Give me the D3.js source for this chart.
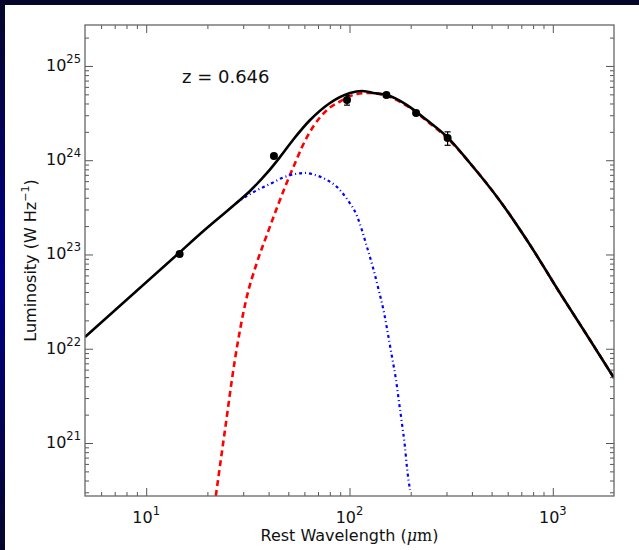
<!DOCTYPE html>
<html>
<head>
<meta charset="utf-8">
<script src="https://cdn.jsdelivr.net/npm/d3@7"></script>
<style>
  html, body { margin: 0; padding: 0; background: #fff; }
  svg { display: block; font-family: "DejaVu Sans", sans-serif; }
</style>
</head>
<body>
<div id="chart"></div>
<script>
// photometry (rest wavelength in micron, luminosity in W/Hz)
const pointWave = [14.6, 42.5, 97.2, 151.9, 212.6, 303.8];
const pointLum = [1.01e23, 1.11e24, 4.36e24, 4.92e24, 3.17e24, 1.72e24];
const pointErr = [0.04e23, 0.06e24, 0.52e24, 0.2e24, 0.15e24, 0.28e24];

// total fit (black)
const totalWave = [5, 14.3, 18.4, 26.7, 32.4, 39.3, 45.5, 52.7, 64, 80.2, 100.6, 115, 130.6, 153, 192, 240, 302, 391, 550, 773, 1084, 1524, 2000];
const totalLum = [1.33e22, 1.01e23, 1.65e23, 3.27e23, 4.72e23, 7.33e23, 1.08e24, 1.64e24, 2.67e24, 4.05e24, 5.17e24, 5.43e24, 5.17e24, 4.92e24, 3.85e24, 2.67e24, 1.77e24, 9.35e23, 3.7e23, 1.26e23, 3.9e22, 1.24e22, 4.9e21];

// cold dust component (red dashed)
const coldWave = [22.0, 24.4, 27.3, 31.0, 35.1, 39.7, 44.5, 49.3, 54, 58.4, 66.1, 77.5, 92.9, 108.9, 125, 153, 192, 240, 302, 391, 550, 773, 1084, 1524, 2000];
const coldLum = [2.74e20, 1.37e21, 7.6e21, 3.29e22, 8.3e22, 1.73e23, 3.35e23, 5.87e23, 9.35e23, 1.38e24, 2.25e24, 3.41e24, 4.36e24, 5.05e24, 5.17e24, 4.81e24, 3.77e24, 2.61e24, 1.72e24, 9.35e23, 3.7e23, 1.26e23, 3.9e22, 1.24e22, 4.9e21];

// warm dust component (blue dash-dot)
const warmWave = [27.7, 33.1, 41.6, 46.5, 54, 60.4, 67.7, 77.5, 86.8, 97.2, 108.9, 121.9, 130.6, 139.6, 148, 154.6, 161.8, 169.4, 175.2, 181, 187.4, 191.9, 198.5];
const warmLum = [3.52e23, 4.49e23, 5.74e23, 6.48e23, 7.14e23, 7.33e23, 6.98e23, 6.17e23, 5.2e23, 3.88e23, 2.56e23, 1.2e23, 7.2e22, 4.1e22, 2.39e22, 1.43e22, 8.2e21, 4.66e21, 2.72e21, 1.63e21, 9.1e20, 5.4e20, 3.17e20];

const xMajor = [10, 100, 1000];
const yMajor = [1e21, 1e22, 1e23, 1e24, 1e25];

const width = 639;
const height = 550;
const margin = { left: 85, right: 25, top: 25, bottom: 54 };

const svg = d3.select("#chart")
    .append("svg")
    .attr("width", width)
    .attr("height", height);

// dark frame round the figure
const defs = svg.append("defs");
const grad = defs.append("linearGradient")
    .attr("id", "bg")
    .attr("x1", 0).attr("y1", 0).attr("x2", 0).attr("y2", 1);
grad.append("stop").attr("offset", "0%").attr("stop-color", "#06062a");
grad.append("stop").attr("offset", "50%").attr("stop-color", "#00008a");
grad.append("stop").attr("offset", "100%").attr("stop-color", "#06062a");

svg.append("rect").attr("width", width).attr("height", height).attr("fill", "url(#bg)");
svg.append("rect").attr("x", 0).attr("y", 0).attr("width", width).attr("height", 5).attr("fill", "#06062a");
svg.append("rect").attr("x", 5).attr("y", 5).attr("width", width - 5).attr("height", height - 5).attr("fill", "#fff");

const x = d3.scaleLog()
    .domain([5, 2000])
    .range([margin.left, width - margin.right]);

const y = d3.scaleLog()
    .domain([2.74e20, 2.72e25])
    .range([height - margin.bottom, margin.top]);

// minor tick values for log axes
const minorTicks = (lo, hi) => {
    const out = [];
    for (let e = Math.floor(Math.log10(lo)); e <= Math.ceil(Math.log10(hi)); e++) {
        for (let m = 2; m <= 9; m++) {
            const v = m * Math.pow(10, e);
            if (v > lo && v < hi) out.push(v);
        }
    }
    return out;
};

const xMinor = minorTicks(x.domain()[0], x.domain()[1]);
const yMinor = minorTicks(y.domain()[0], y.domain()[1]);

const x0 = margin.left, x1 = width - margin.right;
const y0 = height - margin.bottom, y1 = margin.top;

// clip for curves
defs.append("clipPath").attr("id", "plot-clip")
    .append("rect")
    .attr("x", x0).attr("y", y1)
    .attr("width", x1 - x0).attr("height", y0 - y1);

const plot = svg.append("g").attr("clip-path", "url(#plot-clip)");

const line = d3.line()
    .x(d => x(d[0]))
    .y(d => y(d[1]))
    .curve(d3.curveMonotoneX);

plot.append("path")
    .datum(d3.zip(coldWave, coldLum))
    .attr("d", line)
    .attr("fill", "none")
    .attr("stroke", "#ff0000")
    .attr("stroke-width", 2.6)
    .attr("stroke-dasharray", "6,4");

plot.append("path")
    .datum(d3.zip(warmWave, warmLum))
    .attr("d", line)
    .attr("fill", "none")
    .attr("stroke", "#0000ff")
    .attr("stroke-width", 2.2)
    .attr("stroke-dasharray", "3,3,1,3");

plot.append("path")
    .datum(d3.zip(totalWave, totalLum))
    .attr("d", line)
    .attr("fill", "none")
    .attr("stroke", "#000")
    .attr("stroke-width", 2.6);

// data points with error bars
const pts = d3.zip(pointWave, pointLum, pointErr);
const pg = plot.selectAll(".pt")
    .data(pts)
    .enter()
    .append("g")
    .attr("class", "pt");

pg.append("line")
    .attr("x1", d => x(d[0])).attr("x2", d => x(d[0]))
    .attr("y1", d => y(d[1] - d[2])).attr("y2", d => y(d[1] + d[2]))
    .attr("stroke", "#000").attr("stroke-width", 1.2);
pg.each(function (d) {
    const g = d3.select(this);
    [d[1] - d[2], d[1] + d[2]].forEach(v => {
        g.append("line")
            .attr("x1", x(d[0]) - 3).attr("x2", x(d[0]) + 3)
            .attr("y1", y(v)).attr("y2", y(v))
            .attr("stroke", "#000").attr("stroke-width", 1.2);
    });
});
pg.append("circle")
    .attr("cx", d => x(d[0]))
    .attr("cy", d => y(d[1]))
    .attr("r", 4)
    .attr("fill", "#000");

// axes, ticks pointing inward on all four sides
const tickColor = "#555";
const styleAxis = g => {
    g.select(".domain").remove();
    g.selectAll("line").attr("stroke", tickColor).attr("stroke-width", 1);
};

const addTicks = (axisFn, scale, pos, transform) => {
    svg.append("g")
        .attr("transform", transform)
        .call(axisFn(scale).tickValues(pos === "x" ? xMinor : yMinor).tickSize(-4).tickFormat(""))
        .call(styleAxis);
    svg.append("g")
        .attr("transform", transform)
        .call(axisFn(scale).tickValues(pos === "x" ? xMajor : yMajor).tickSize(-8).tickFormat(""))
        .call(styleAxis);
};

addTicks(d3.axisBottom, x, "x", `translate(0,${y0})`);
addTicks(d3.axisTop, x, "x", `translate(0,${y1})`);
addTicks(d3.axisLeft, y, "y", `translate(${x0},0)`);
addTicks(d3.axisRight, y, "y", `translate(${x1},0)`);

// frame
svg.append("rect")
    .attr("x", x0).attr("y", y1)
    .attr("width", x1 - x0).attr("height", y0 - y1)
    .attr("fill", "none")
    .attr("stroke", "#666")
    .attr("stroke-width", 1.3);

// tick labels as 10^n
const powLabel = (sel, v) => {
    sel.append("tspan").text("10");
    sel.append("tspan")
        .attr("dy", -8)
        .attr("font-size", 11.5)
        .text(Math.round(Math.log10(v)));
};

xMajor.forEach(v => {
    svg.append("text")
        .attr("x", x(v))
        .attr("y", y0 + 27)
        .attr("text-anchor", "middle")
        .attr("font-size", 16)
        .attr("fill", "#111")
        .call(powLabel, v);
});

yMajor.forEach(v => {
    svg.append("text")
        .attr("x", x0 - 4)
        .attr("y", y(v) + 5)
        .attr("text-anchor", "end")
        .attr("font-size", 16)
        .attr("fill", "#111")
        .call(powLabel, v);
});

// axis titles
const xTitle = svg.append("text")
    .attr("x", (x0 + x1) / 2)
    .attr("y", 541)
    .attr("text-anchor", "middle")
    .attr("font-size", 16)
    .attr("fill", "#111");
xTitle.append("tspan").text("Rest Wavelength (");
xTitle.append("tspan").attr("font-family", "DejaVu Serif, serif").attr("font-style", "italic").text("μ");
xTitle.append("tspan").attr("font-family", "DejaVu Serif, serif").text("m");
xTitle.append("tspan").text(")");

const yTitle = svg.append("text")
    .attr("transform", `translate(36,${(y0 + y1) / 2}) rotate(-90)`)
    .attr("text-anchor", "middle")
    .attr("font-size", 16)
    .attr("fill", "#111");
yTitle.append("tspan").text("Luminosity (W Hz");
yTitle.append("tspan").attr("dy", -7).attr("font-size", 11).text("−1");
yTitle.append("tspan").attr("dy", 7).text(")");

svg.append("text")
    .attr("x", 182)
    .attr("y", 83)
    .attr("font-size", 18)
    .attr("fill", "#111")
    .text("z = 0.646");
</script>
</body>
</html>
